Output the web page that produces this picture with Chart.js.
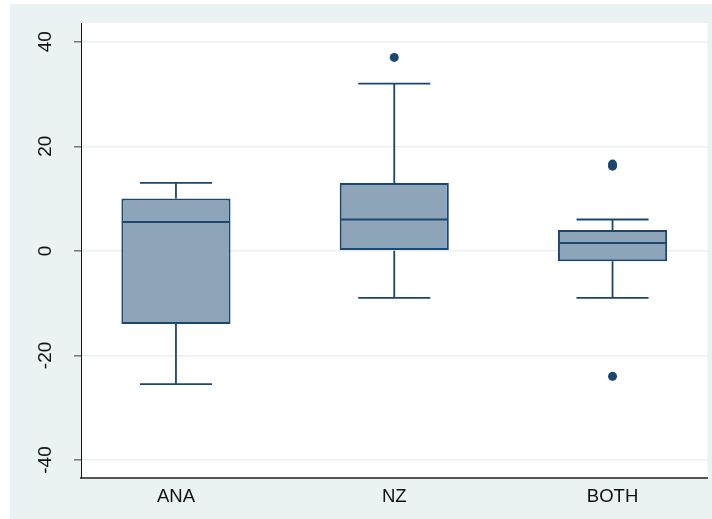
<!DOCTYPE html>
<html>
<head>
<meta charset="utf-8">
<script src="https://cdn.jsdelivr.net/npm/chart.js@4.4.1/dist/chart.umd.min.js"></script>
<style>
  body { margin: 0; background: #fff; }
  canvas { display: block; }
</style>
</head>
<body>
<canvas id="myChart" width="712" height="519"></canvas>
<script>
// box plot data
var categories = ['ANA', 'NZ', 'BOTH'];
var whiskerLow = [-25.5, -9, -9];
var q1 = [-14, 0, -2];
var median = [5.5, 6, 1.5];
var q3 = [10, 13, 4];
var whiskerHigh = [13, 32, 6];
var outlierCat = [2, 3, 3, 3];
var outlierVal = [37, 16.2, 16.6, -24];
var yTicks = [-40, -20, 0, 20, 40];

var navy = '#1a476f';
var boxFill = '#8ea4b9';
var bgColor = '#eaf2f3';
var fontFam = '"Liberation Sans", Arial, sans-serif';

var boxes = [];
for (i = 0; i < categories.length; i++) {
    boxes.push({ x: i + 1, y: [q1[i], q3[i]] });
}
var points = [];
for (i = 0; i < outlierVal.length; i++) {
    points.push({ x: outlierCat[i], y: outlierVal[i] });
}

// background panels
var bgPlugin = {
    id: 'bgPlugin',
    beforeDraw: function (chart) {
        var ctx = chart.ctx, a = chart.chartArea;
        ctx.save();
        ctx.fillStyle = '#fff';
        ctx.fillRect(0, 0, chart.width, chart.height);
        ctx.fillStyle = bgColor;
        ctx.fillRect(10, 4, chart.width - 10, chart.height - 4);
        ctx.fillStyle = '#fff';
        ctx.fillRect(a.left, a.top, a.right - a.left, a.bottom - a.top);
        ctx.restore();
    }
};

// whiskers, caps and medians
var boxPlugin = {
    id: 'boxPlugin',
    beforeDatasetsDraw: function (chart) {
        var ctx = chart.ctx, xs = chart.scales.x, ys = chart.scales.y;
        var capHalf = (xs.getPixelForValue(1.165) - xs.getPixelForValue(1));
        ctx.save();
        ctx.strokeStyle = navy;
        ctx.lineWidth = 1.8;
        for (i = 0; i < categories.length; i++) {
            var cx = xs.getPixelForValue(i + 1);
            ctx.beginPath();
            ctx.moveTo(cx, ys.getPixelForValue(q3[i]));
            ctx.lineTo(cx, ys.getPixelForValue(whiskerHigh[i]));
            ctx.moveTo(cx - capHalf, ys.getPixelForValue(whiskerHigh[i]));
            ctx.lineTo(cx + capHalf, ys.getPixelForValue(whiskerHigh[i]));
            ctx.moveTo(cx, ys.getPixelForValue(q1[i]));
            ctx.lineTo(cx, ys.getPixelForValue(whiskerLow[i]));
            ctx.moveTo(cx - capHalf, ys.getPixelForValue(whiskerLow[i]));
            ctx.lineTo(cx + capHalf, ys.getPixelForValue(whiskerLow[i]));
            ctx.stroke();
        }
        ctx.restore();
    },
    afterDatasetsDraw: function (chart) {
        var ctx = chart.ctx, xs = chart.scales.x, ys = chart.scales.y;
        var half = (xs.getPixelForValue(1.25) - xs.getPixelForValue(1));
        ctx.save();
        ctx.strokeStyle = navy;
        ctx.lineWidth = 2;
        for (i = 0; i < categories.length; i++) {
            var cx = xs.getPixelForValue(i + 1);
            var my = ys.getPixelForValue(median[i]);
            ctx.beginPath();
            ctx.moveTo(cx - half + 1, my);
            ctx.lineTo(cx + half - 1, my);
            ctx.stroke();
        }
        ctx.restore();
    }
};

// vertical y tick labels
var yLabelPlugin = {
    id: 'yLabelPlugin',
    afterDraw: function (chart) {
        var ctx = chart.ctx, ys = chart.scales.y;
        ctx.save();
        ctx.fillStyle = '#111';
        ctx.font = '19px ' + fontFam;
        ctx.textAlign = 'center';
        ctx.textBaseline = 'middle';
        yTicks.forEach(function (v) {
            ctx.save();
            ctx.translate(46, ys.getPixelForValue(v));
            ctx.rotate(-Math.PI / 2);
            ctx.fillText(String(v), 0, 0);
            ctx.restore();
        });
        ctx.restore();
    }
};

var ctx = document.getElementById('myChart').getContext('2d');
var chart = new Chart(ctx, {
    type: 'bar',
    data: {
        datasets: [{
            type: 'bar',
            data: boxes,
            backgroundColor: boxFill,
            borderColor: navy,
            borderWidth: 2,
            borderSkipped: false,
            barPercentage: 0.5,
            categoryPercentage: 1
        }, {
            type: 'scatter',
            data: points,
            backgroundColor: navy,
            borderWidth: 0,
            pointRadius: 4.5
        }]
    },
    options: {
        responsive: false,
        animation: false,
        layout: { padding: { left: 0, top: 23, right: 4, bottom: 0 } },
        plugins: {
            legend: { display: false },
            tooltip: { enabled: false }
        },
        scales: {
            x: {
                type: 'linear',
                offset: false,
                min: 0.565,
                max: 3.435,
                afterBuildTicks: function (s) {
                    s.ticks = categories.map(function (c, k) { return { value: k + 1 }; });
                },
                afterFit: function (s) { s.height = 41; },
                grid: { display: false, drawTicks: false },
                border: { display: true, color: '#555', width: 2 },
                ticks: {
                    padding: 8,
                    color: '#111',
                    font: { family: fontFam, size: 18.5 },
                    callback: function (v) { return categories[v - 1]; }
                }
            },
            y: {
                type: 'linear',
                min: -43.44,
                max: 43.58,
                afterBuildTicks: function (s) {
                    s.ticks = yTicks.map(function (v) { return { value: v }; });
                },
                afterFit: function (s) { s.width = 81; },
                grid: {
                    color: bgColor,
                    lineWidth: 1.5,
                    tickColor: '#777',
                    tickLength: 7
                },
                border: { display: true, color: '#111', width: 1 },
                ticks: { display: false }
            }
        }
    },
    plugins: [bgPlugin, boxPlugin, yLabelPlugin]
});
</script>
</body>
</html>
